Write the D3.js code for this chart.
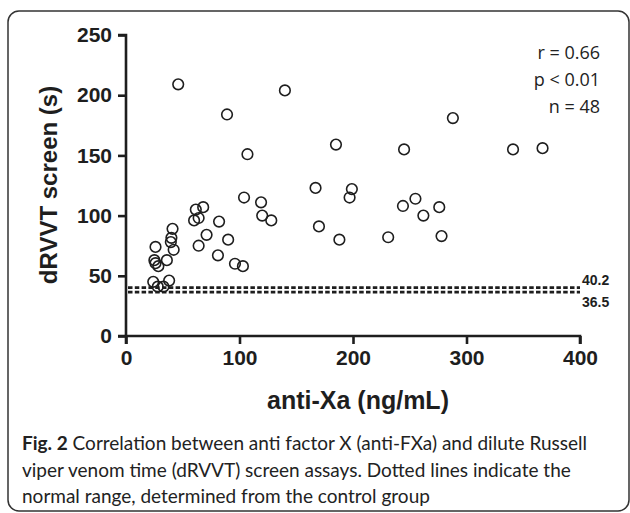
<!DOCTYPE html>
<html><head><meta charset="utf-8">
<script src="https://cdn.jsdelivr.net/npm/d3@7"></script>
<style>body{margin:0;background:#fff}svg{display:block}</style>
</head><body>
<script>
// data
const antiXa = [46,140,89,288,185,245,341,367,107,167,199,197,104,119,120,128,255,244,262,276,278,231,188,170,68,61.5,60,64,64,71,82,90,81,96,103,41,40,39.5,42,26,25,26,28.5,36,24,38,28,33];
const drvvt  = [209,204,184,181,159,155,155,156,151,123,122,115,115,111,100,96,114,108,100,107,83,82,80,91,107,105,96,98,75,84,95,80,67,60,58,89,81.5,78,71.6,74,63,60.5,58,63,45,46,41,41];
const refLines = [40.2, 36.5];
const xTicks = [0,100,200,300,400];
const yTicks = [0,50,100,150,200,250];
const statsText = ["r = 0.66","p < 0.01","n = 48"];
const xTitle = "anti-Xa (ng/mL)";
const yTitle = "dRVVT screen (s)";
const captionBold = "Fig. 2";
const captionLines = [" Correlation between anti factor X (anti-FXa) and dilute Russell",
  "viper venom time (dRVVT) screen assays. Dotted lines indicate the",
  "normal range, determined from the control group"];

const W=630,H=513;
const svg=d3.select("body").append("svg").attr("width",W).attr("height",H);
svg.append("rect").attr("x",8).attr("y",11).attr("width",621).attr("height",500)
  .attr("rx",11).attr("fill","none").attr("stroke","#333").attr("stroke-width",1.5);

const x=d3.scaleLinear().domain([0,400]).range([126,580]);
const y=d3.scaleLinear().domain([0,250]).range([336,35]);
const ink="#1e1e1e";

const gx=svg.append("g").attr("transform","translate(0,336)")
  .call(d3.axisBottom(x).tickValues(xTicks).tickSize(8).tickPadding(6));
const gy=svg.append("g").attr("transform","translate(126,0)")
  .call(d3.axisLeft(y).tickValues(yTicks).tickSize(8).tickPadding(6));
[gx,gy].forEach(g=>{
  g.select(".domain").attr("stroke",ink).attr("stroke-width",2.6);
  g.selectAll(".tick line").attr("stroke",ink).attr("stroke-width",2.6);
  g.selectAll("text").attr("fill",ink).attr("font-family","Liberation Sans, Arial, sans-serif")
    .attr("font-weight","bold").attr("font-size",21);
});
gx.select(".domain").attr("d",`M${x(0)},8V0H${x(400)}V8`);
gy.select(".domain").attr("d",`M-8,${y(250)}H0V${y(0)}H-8`);

// reference dotted lines
svg.selectAll(".ref").data(refLines).join("line")
  .attr("x1",x(0)+2).attr("x2",x(400)).attr("y1",d=>y(d)).attr("y2",d=>y(d))
  .attr("stroke",ink).attr("stroke-width",2.8).attr("stroke-dasharray","4.5,2.3");
svg.selectAll(".reflab").data(refLines).join("text")
  .attr("x",x(400)+2).attr("y",(d,i)=>i===0?y(d)-3:y(d)+15)
  .attr("font-family","Liberation Sans, Arial, sans-serif").attr("font-weight","bold")
  .attr("font-size",14).attr("fill",ink).text(d=>d.toFixed(1));

// points
svg.selectAll(".pt").data(antiXa.map((v,i)=>[v,drvvt[i]])).join("circle")
  .attr("cx",d=>x(d[0])).attr("cy",d=>y(d[1])).attr("r",5.3)
  .attr("fill","none").attr("stroke",ink).attr("stroke-width",1.6);

// titles
svg.append("text").attr("x",358).attr("y",409).attr("text-anchor","middle")
  .attr("font-family","Liberation Sans, Arial, sans-serif").attr("font-weight","bold")
  .attr("font-size",25).attr("fill",ink).text(xTitle);
svg.append("text").attr("transform","translate(57,185) rotate(-90)").attr("text-anchor","middle")
  .attr("font-family","Liberation Sans, Arial, sans-serif").attr("font-weight","bold")
  .attr("font-size",24).attr("fill",ink).text(yTitle);

// stats
svg.selectAll(".stat").data(statsText).join("text")
  .attr("x",600).attr("y",(d,i)=>59+i*27).attr("text-anchor","end")
  .attr("font-family","Open Sans, sans-serif").attr("font-size",18).attr("fill","#222").text(d=>d);

// caption
const cap=svg.append("g").attr("font-family","Lato, sans-serif").attr("font-size",19).attr("fill","#222");
const t1=cap.append("text").attr("x",22).attr("y",450);
t1.append("tspan").attr("font-weight","bold").text(captionBold);
t1.append("tspan").text(captionLines[0]);
cap.append("text").attr("x",22).attr("y",477).text(captionLines[1]);
cap.append("text").attr("x",22).attr("y",503).text(captionLines[2]);
</script>
</body></html>
